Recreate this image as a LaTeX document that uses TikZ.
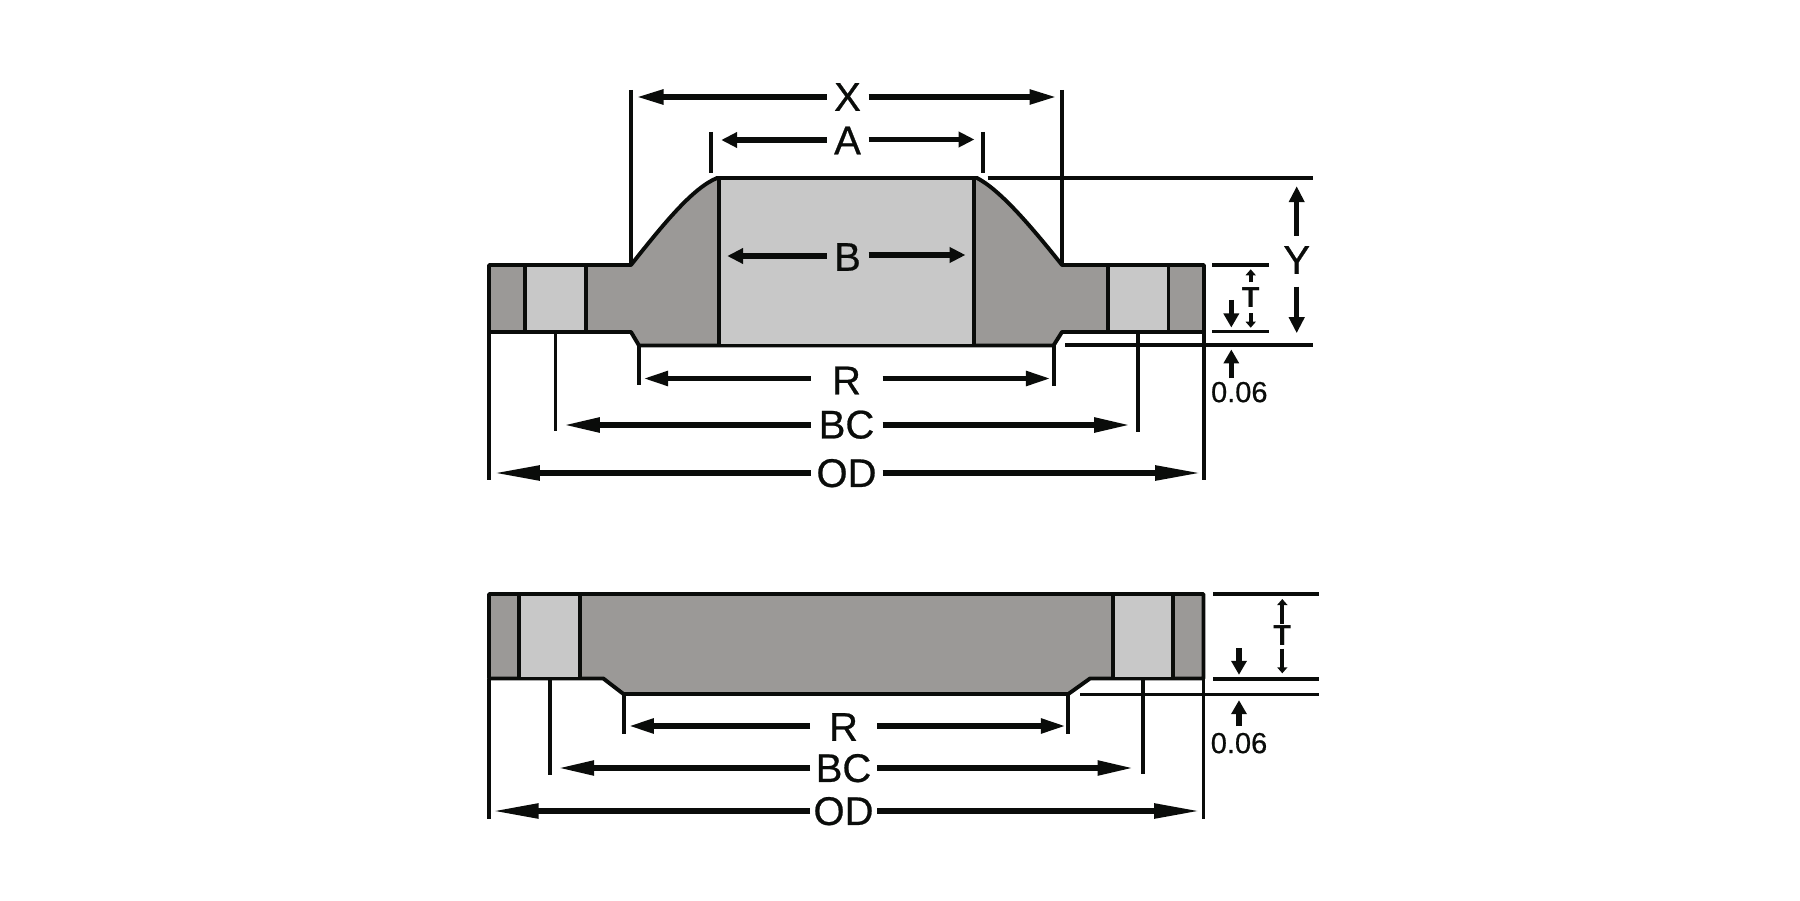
\documentclass[tikz,border=0pt]{standalone}
\usepackage{fontspec}
\setmainfont{Liberation Sans}
\newfontfamily\labfont{Liberation Sans}[FakeBold=0.6]
\usetikzlibrary{arrows.meta}
\definecolor{ink}{HTML}{0A0C0A}
\definecolor{body}{HTML}{9B9997}
\definecolor{hole}{HTML}{C8C8C8}
\tikzset{
  x=1pt,y=-1pt,
  part/.style={draw=ink,line width=3.9pt,line join=round},
  ext/.style={draw=ink,line width=3.6pt},
  dim/.style={draw=ink,line width=5.4pt,shorten >=-3.5pt},
  short dim/.style={draw=ink,line width=5.4pt,shorten >=-0.5pt},
  thin dim/.style={draw=ink,line width=3.9pt},
  h16/.style={-{Triangle[length=16pt,width=15pt,color=ink]}},
  h25/.style={-{Triangle[length=25pt,width=14pt,color=ink]}},
  h27/.style={-{Triangle[length=27pt,width=14pt,color=ink]}},
  h36/.style={-{Triangle[length=36pt,width=14pt,color=ink]}},
  h46/.style={-{Triangle[length=46pt,width=14pt,color=ink]}},
  h14/.style={-{Triangle[length=14pt,width=15pt,color=ink]}},
  h6/.style={-{Triangle[length=6pt,width=10pt,color=ink]}},
  lab/.style={inner sep=0pt,outer sep=0pt,text=ink,text depth=0pt,font=\labfont\fontsize{40}{40}\selectfont},
  small/.style={inner sep=0pt,outer sep=0pt,text=ink,text depth=0pt,font=\labfont\fontsize{29}{29}\selectfont},
  tee/.style={inner sep=0pt,outer sep=0pt,text=ink,text depth=0pt,font=\bfseries\fontsize{29}{29}\selectfont},
}
\begin{document}
\begin{tikzpicture}
\useasboundingbox (0,0) rectangle (1800,901);
% ---------- upper flange ----------
\path[part,fill=body] (489,265) -- (631,265)
  .. controls (665,222) and (693,188) .. (717,178)
  -- (977,178)
  .. controls (1000,190) and (1030,225) .. (1062,265)
  -- (1204,265) -- (1204,332) -- (1062,332) -- (1053.5,345.5)
  -- (639,345.5) -- (631,332) -- (489,332) -- cycle;
\path[part,fill=hole] (719,178) rectangle (974,345.5);
\path[part,fill=hole] (525,265) rectangle (586,332);
\path[part,fill=hole] (1108,265) rectangle (1168.5,332);
% extension lines
\coordinate (xl1) at (631,90);   \coordinate (xl2) at (631,265);
\coordinate (xr1) at (1062,90);  \coordinate (xr2) at (1062,265);
\coordinate (al1) at (710.7,132);\coordinate (al2) at (710.7,173);
\coordinate (ar1) at (982.7,132);\coordinate (ar2) at (982.7,173);
\coordinate (rl1) at (639,345.5);\coordinate (rl2) at (639,385);
\coordinate (rr1) at (1053.7,345.5);\coordinate (rr2) at (1053.7,386.5);
\coordinate (bl1) at (555.3,332);\coordinate (bl2) at (555.3,431);
\coordinate (br1) at (1138,332); \coordinate (br2) at (1138,431.5);
\coordinate (ol1) at (489,332);  \coordinate (ol2) at (489,480);
\coordinate (or1) at (1204,332); \coordinate (or2) at (1204,480);
\coordinate (yt1) at (987.7,178);\coordinate (yt2) at (1312.7,178);
\coordinate (yb1) at (1065,345); \coordinate (yb2) at (1312.7,345);
\coordinate (tt1) at (1212.3,265);\coordinate (tt2) at (1269,265);
\coordinate (tb1) at (1212.3,331.5);\coordinate (tb2) at (1269,331.5);
\foreach \a/\b in {xl1/xl2,xr1/xr2,al1/al2,ar1/ar2,rl1/rl2,rr1/rr2,bl1/bl2,br1/br2,ol1/ol2,or1/or2,yt1/yt2,yb1/yb2,tt1/tt2,tb1/tb2}
  \draw[ext] (\a) -- (\b);
% labels
\node[lab,minimum width=42pt] (X)  at (847.5,97) {X};
\node[lab,minimum width=42pt] (A)  at (847.5,140.5) {A};
\node[lab,minimum width=42pt] (B)  at (847.5,257) {B};
\node[lab,minimum width=72pt] (R)  at (846.5,380.5) {R};
\node[lab,minimum width=72pt] (BC) at (846.5,424.5) {BC};
\node[lab,minimum width=72pt] (OD) at (846.5,473) {OD};
\node[lab] (Y) at (1296.7,260) {Y};
\node[tee,minimum height=31pt] (T) at (1250.7,298) {T};
\node[small] (u06) at (1239.3,392) {0.06};
% arrow ends
\coordinate (xa1) at (640,97);   \coordinate (xa2) at (1053,97);
\coordinate (aa1) at (721.7,140);\coordinate (aa2) at (974,139.5);
\coordinate (ba1) at (727.7,256);\coordinate (ba2) at (965,255);
\coordinate (ra1) at (646.7,378.5);\coordinate (ra2) at (1047.3,378.5);
\coordinate (ca1) at (567.3,425);\coordinate (ca2) at (1126.7,425);
\coordinate (oa1) at (497.3,473);\coordinate (oa2) at (1197.7,473);
\coordinate (ya1) at (1296.7,186.7);\coordinate (ya2) at (1296.7,332.7);
\coordinate (ta1) at (1250.7,269.3);\coordinate (ta2) at (1250.7,327.7);
\coordinate (d1) at (1231.3,300);\coordinate (d2) at (1231.3,327);
\coordinate (e1) at (1231.3,378.3);\coordinate (e2) at (1231.3,350);
\draw[dim,h27] (X.west |- xa1) -- (xa1); \draw[dim,h27] (X.east |- xa2) -- (xa2);
\draw[short dim,h16] (A.west |- aa1) -- (aa1); \draw[short dim,h16] (A.east |- aa2) -- (aa2);
\draw[short dim,h16] (B.west |- ba1) -- (ba1); \draw[short dim,h16] (B.east |- ba2) -- (ba2);
\draw[dim,h25] (R.west |- ra1) -- (ra1); \draw[dim,h25] (R.east |- ra2) -- (ra2);
\draw[dim,h36] (BC.west |- ca1) -- (ca1); \draw[dim,h36] (BC.east |- ca2) -- (ca2);
\draw[dim,h46] (OD.west |- oa1) -- (oa1); \draw[dim,h46] (OD.east |- oa2) -- (oa2);
\draw[short dim,h16] (1296.7,236) -- (ya1); \draw[short dim,h16] (1296.7,286.7) -- (ya2);
\draw[thin dim,h6] (T.north) -- (ta1); \draw[thin dim,h6] (T.south) -- (ta2);
\draw[short dim,h14] (d1) -- (d2);
\draw[short dim,h14] (e1) -- (e2);
% ---------- lower flange ----------
\path[part,fill=body] (489,594) -- (1203.5,594) -- (1203.5,678.5) -- (1090,678.5)
  -- (1068.3,694) -- (623.5,694) -- (603.3,678.5) -- (489,678.5) -- cycle;
\path[part,fill=hole] (519.3,594) rectangle (580,678.5);
\path[part,fill=hole] (1112.7,594) rectangle (1173.3,678.5);
\coordinate (Rl1) at (623.7,694);\coordinate (Rl2) at (623.7,733.5);
\coordinate (Rr1) at (1068,694);\coordinate (Rr2) at (1068,733.5);
\coordinate (Bl1) at (549.7,678.5);\coordinate (Bl2) at (549.7,775);
\coordinate (Br1) at (1142.7,678.5);\coordinate (Br2) at (1142.7,774);
\coordinate (Ol1) at (489,678.5);\coordinate (Ol2) at (489,818.5);
\coordinate (Or1) at (1203.5,678.5);\coordinate (Or2) at (1203.5,818.5);
\coordinate (Tt1) at (1213.3,594);\coordinate (Tt2) at (1319,594);
\coordinate (Tb1) at (1213.3,678.7);\coordinate (Tb2) at (1319,678.7);
\coordinate (Tc1) at (1080.3,694.3);\coordinate (Tc2) at (1319,694.3);
\foreach \a/\b in {Rl1/Rl2,Rr1/Rr2,Bl1/Bl2,Br1/Br2,Ol1/Ol2,Or1/Or2,Tt1/Tt2,Tb1/Tb2,Tc1/Tc2}
  \draw[ext] (\a) -- (\b);
\node[lab,minimum width=67pt] (R2)  at (843.5,727) {R};
\node[lab,minimum width=67pt] (BC2) at (843.5,768) {BC};
\node[lab,minimum width=67pt] (OD2) at (843.5,811) {OD};
\node[tee,minimum height=25pt] (T2) at (1282.3,636) {T};
\node[small] (v06) at (1239,743) {0.06};
\coordinate (ra3) at (632.3,726);\coordinate (ra4) at (1062.3,726);
\coordinate (ca3) at (561.7,768);\coordinate (ca4) at (1130,768);
\coordinate (oa3) at (496,811);\coordinate (oa4) at (1196.7,811);
\coordinate (ta3) at (1282.3,599);\coordinate (ta4) at (1282.3,673.3);
\coordinate (d3) at (1239,648.3);\coordinate (d4) at (1239,674.3);
\coordinate (e3) at (1239,726);\coordinate (e4) at (1239,700.7);
\draw[dim,h25] (R2.west |- ra3) -- (ra3); \draw[dim,h25] (R2.east |- ra4) -- (ra4);
\draw[dim,h36] (BC2.west |- ca3) -- (ca3); \draw[dim,h36] (BC2.east |- ca4) -- (ca4);
\draw[dim,h46] (OD2.west |- oa3) -- (oa3); \draw[dim,h46] (OD2.east |- oa4) -- (oa4);
\draw[thin dim,h6] (T2.north) -- (ta3); \draw[thin dim,h6] (T2.south) -- (ta4);
\draw[short dim,h14] (d3) -- (d4);
\draw[short dim,h14] (e3) -- (e4);
\end{tikzpicture}
\end{document}
